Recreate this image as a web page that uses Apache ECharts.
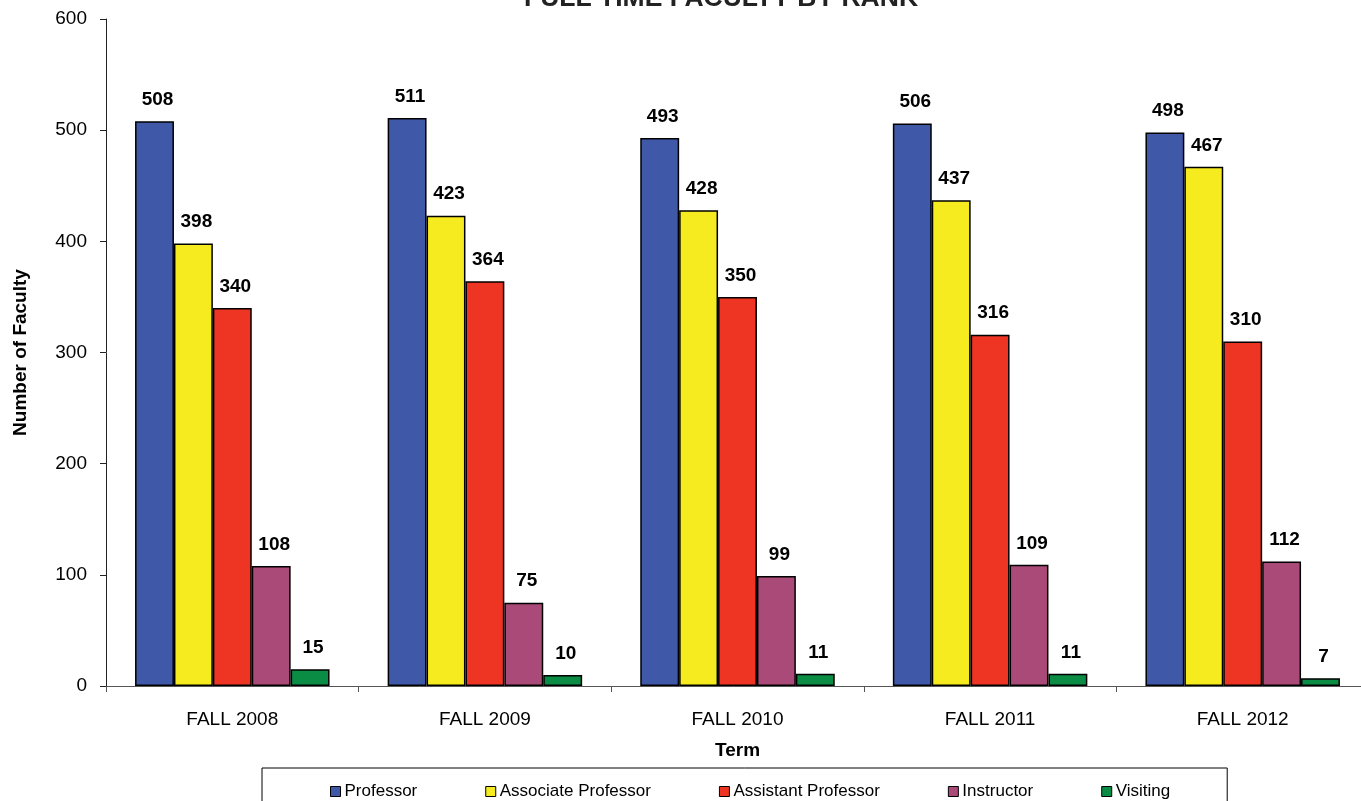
<!DOCTYPE html>
<html>
<head>
<meta charset="utf-8">
<script src="https://cdn.jsdelivr.net/npm/echarts@6/dist/echarts.min.js"></script>
<style>
  html, body { margin: 0; padding: 0; background: #fff; }
  #chart { width: 1361px; height: 801px; }
</style>
</head>
<body>
<div id="chart"></div>
<script>
const terms = ["FALL 2008", "FALL 2009", "FALL 2010", "FALL 2011", "FALL 2012"];
const professor = [508, 511, 493, 506, 498];
const associate = [398, 423, 428, 437, 467];
const assistant = [340, 364, 350, 316, 310];
const instructor = [108, 75, 99, 109, 112];
const visiting = [15, 10, 11, 11, 7];

const font = "Liberation Sans, Arial, sans-serif";

function bar(name, data, color) {
  return {
    name: name,
    type: "bar",
    data: data,
    barGap: "0%",
    barCategoryGap: "23%",
    itemStyle: { color: color, borderColor: "#000", borderWidth: 1.5 },
    label: {
      show: true,
      position: "top",
      distance: 12,
      offset: [3, 0],
      color: "#000",
      fontFamily: font,
      fontWeight: "bold",
      fontSize: 19
    }
  };
}

const chart = echarts.init(document.getElementById("chart"));
chart.setOption({
  animation: false,
  title: {
    text: "FULL TIME FACULTY BY RANK",
    left: 716,
    textAlign: "center",
    top: -20,
    textStyle: { fontFamily: font, fontWeight: "bold", fontSize: 26.5, color: "#222" }
  },
  grid: { left: 106, width: 1263, top: 19, bottom: 115, outerBoundsMode: "none", containLabel: false },
  legend: {
    left: 262,
    top: 768,
    padding: [15, 57, 30, 68],
    borderColor: "#000",
    borderWidth: 1,
    itemGap: 68,
    itemWidth: 10,
    itemHeight: 10,
    icon: "rect",
    itemStyle: { borderColor: "#000", borderWidth: 1 },
    textStyle: { fontFamily: font, fontSize: 17, color: "#000", padding: [0, 0, 0, -1] }
  },
  xAxis: {
    type: "category",
    data: terms,
    name: "Term",
    nameLocation: "middle",
    nameGap: 55,
    nameTextStyle: { fontFamily: font, fontWeight: "bold", fontSize: 19, color: "#000" },
    axisLine: { lineStyle: { color: "#555", width: 1 } },
    axisTick: { show: true, length: 6, lineStyle: { color: "#555" } },
    axisLabel: { fontFamily: font, fontSize: 19, color: "#000", margin: 24 }
  },
  yAxis: {
    type: "value",
    min: 0,
    max: 600,
    interval: 100,
    name: "Number of Faculty",
    nameLocation: "middle",
    nameGap: 76,
    nameTextStyle: { fontFamily: font, fontWeight: "bold", fontSize: 19, color: "#000" },
    axisLine: { show: true, lineStyle: { color: "#222", width: 1 } },
    axisTick: { show: true, length: 6, lineStyle: { color: "#222" } },
    axisLabel: { fontFamily: font, fontSize: 19, color: "#000", margin: 19 },
    splitLine: { show: false }
  },
  series: [
    bar("Professor", professor, "#3F58A8"),
    bar("Associate Professor", associate, "#F6EB1F"),
    bar("Assistant Professor", assistant, "#EE3524"),
    bar("Instructor", instructor, "#AA4A78"),
    bar("Visiting", visiting, "#0B8C45")
  ]
});
</script>
</body>
</html>
